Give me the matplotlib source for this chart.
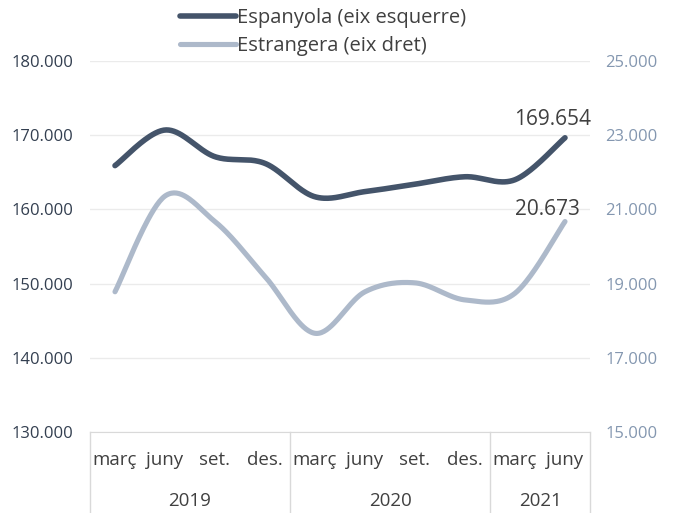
import numpy as np
import matplotlib.pyplot as plt
from matplotlib.ticker import FuncFormatter

plt.rcParams['font.family'] = ['Open Sans', 'DejaVu Sans']

# Dades
mesos = ['març', 'juny', 'set.', 'des.', 'març', 'juny', 'set.', 'des.', 'març', 'juny']
anys = ['2019', '2020', '2021']
mesos_per_any = [4, 4, 2]
espanyola = [165900, 170700, 167100, 166200, 161700, 162400, 163400, 164400, 164000, 169654]
estrangera = [18780, 21360, 20670, 19190, 17660, 18780, 19020, 18560, 18740, 20673]

FOSC = '#44546A'
CLAR = '#ADB9CA'
TEXT = '#404040'


def suavitza(y, n=40):
    # corba suavitzada tipus Excel (Bezier amb punts de control Catmull-Rom)
    x = np.arange(len(y), dtype=float)
    y = np.asarray(y, dtype=float)
    px = np.concatenate([[x[0]], x, [x[-1]]])
    py = np.concatenate([[y[0]], y, [y[-1]]])
    xs, ys = [], []
    t = np.linspace(0, 1, n)
    for i in range(1, len(x)):
        p0 = np.array([px[i], py[i]])
        p3 = np.array([px[i + 1], py[i + 1]])
        c1 = p0 + (p3 - np.array([px[i - 1], py[i - 1]])) / 6
        c2 = p3 - (np.array([px[i + 2], py[i + 2]]) - p0) / 6
        b = ((1 - t) ** 3)[:, None] * p0 + (3 * (1 - t) ** 2 * t)[:, None] * c1 \
            + (3 * (1 - t) * t ** 2)[:, None] * c2 + (t ** 3)[:, None] * p3
        xs.append(b[:, 0])
        ys.append(b[:, 1])
    return np.concatenate(xs), np.concatenate(ys)


fig = plt.figure(figsize=(6.8, 5.13), dpi=100)
ax = fig.add_axes([90 / 680, 81 / 513, 500 / 680, 371 / 513])
ax2 = ax.twinx()

xe, ye = suavitza(espanyola)
xr, yr = suavitza(estrangera)
l1, = ax.plot(xe, ye, color=FOSC, lw=4.0, solid_capstyle='round',
              label='Espanyola (eix esquerre)', zorder=3)
l2, = ax2.plot(xr, yr, color=CLAR, lw=3.7, solid_capstyle='round',
               label='Estrangera (eix dret)', zorder=3)

ax.set_xlim(-0.5, len(mesos) - 0.5)
ax.set_ylim(130000, 180000)
ax.set_yticks(np.arange(130000, 180001, 10000))
ax2.set_ylim(15000, 25000)
ax2.set_yticks(np.arange(15000, 25001, 2000))

fmt = FuncFormatter(lambda v, p: f'{v:,.0f}'.replace(',', '.'))
ax.yaxis.set_major_formatter(fmt)
ax2.yaxis.set_major_formatter(fmt)

ax.grid(axis='y', color='#EBEBEB', lw=1)
ax.set_axisbelow(True)
for a in (ax, ax2):
    for s in a.spines.values():
        s.set_visible(False)
ax.spines['bottom'].set_visible(True)
ax.spines['bottom'].set_color('#D9D9D9')

ax.tick_params(axis='y', length=0, pad=12, labelsize=12, labelcolor='#333F50')
ax2.tick_params(axis='y', length=0, pad=11, labelsize=12, labelcolor='#8497B0')
ax.set_xticks(range(len(mesos)))
ax.set_xticklabels(mesos)
ax.tick_params(axis='x', length=0, pad=14, labelsize=13.5, labelcolor=TEXT)

# caixes de l'eix de categories
tr = ax.get_xaxis_transform()
vores = np.concatenate([[0], np.cumsum(mesos_per_any)]) - 0.5
for v in vores:
    ax.plot([v, v], [0, -0.22], transform=tr, color='#D9D9D9', lw=1, clip_on=False)
for i, a in enumerate(anys):
    ax.text((vores[i] + vores[i + 1]) / 2, -0.185, a, transform=tr,
            ha='center', va='center', fontsize=13.5, color=TEXT)

# etiquetes de l'últim valor
ax.annotate(f'{espanyola[-1]:,}'.replace(',', '.'), (len(mesos) - 1, espanyola[-1]),
            xytext=(-9, 13), textcoords='offset points', ha='center', va='center',
            fontsize=15, color=TEXT)
ax2.annotate(f'{estrangera[-1]:,}'.replace(',', '.'), (len(mesos) - 1, estrangera[-1]),
             xytext=(-13, 9), textcoords='offset points', ha='center', va='center',
             fontsize=15, color=TEXT)

fig.legend(handles=[l1, l2], loc='upper left', bbox_to_anchor=(162 / 680, 1.02),
           frameon=False, fontsize=14.5, handlelength=2.75, handletextpad=0.08,
           labelspacing=0.42, labelcolor=TEXT)

fig.savefig('out.png', dpi=100)
